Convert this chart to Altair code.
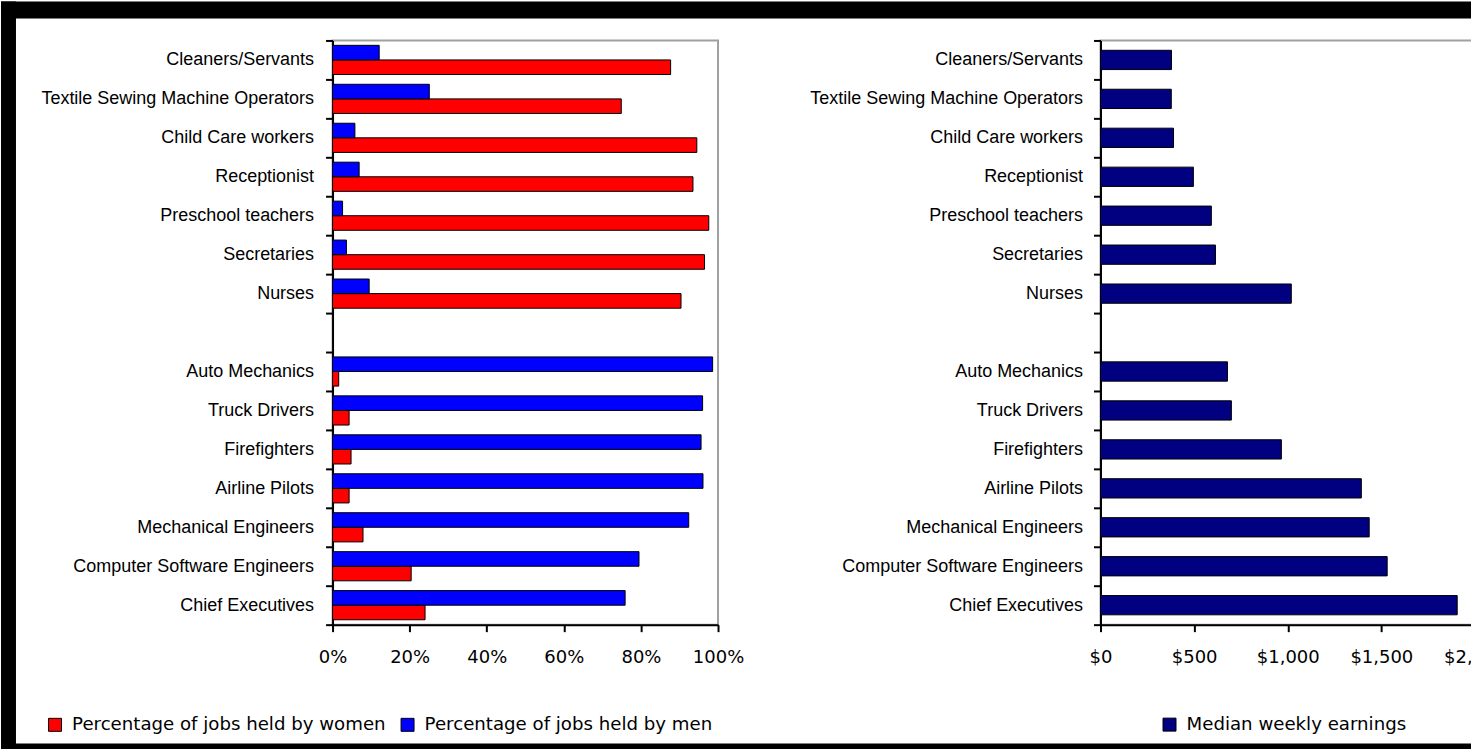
import altair as alt
import pandas as pd

# ---------------- data ----------------
categories = ["Cleaners/Servants", "Textile Sewing Machine Operators", "Child Care workers",
              "Receptionist", "Preschool teachers", "Secretaries", "Nurses", " ",
              "Auto Mechanics", "Truck Drivers", "Firefighters", "Airline Pilots",
              "Mechanical Engineers", "Computer Software Engineers", "Chief Executives"]
occupations = [c for c in categories if c.strip()]
women_pct = [87.7, 74.9, 94.5, 93.5, 97.6, 96.5, 90.4,
             1.6, 4.3, 4.8, 4.3, 7.9, 20.4, 24.0]
men_pct = [12.1, 25.1, 5.8, 6.9, 2.6, 3.6, 9.5,
           98.6, 96.0, 95.6, 96.1, 92.4, 79.5, 75.9]
weekly_earnings = [379, 378, 390, 496, 592, 614, 1019,
                   678, 699, 966, 1393, 1435, 1531, 1905]
series_names = ["Percentage of jobs held by women", "Percentage of jobs held by men"]
earn_name = "Median weekly earnings"
pct_ticks = [0, 20, 40, 60, 80, 100]
usd_ticks = [0, 500, 1000, 1500, 2000]

rows = []
for occ, w, m in zip(occupations, women_pct, men_pct):
    rows.append({"occupation": occ, "series": series_names[0], "value": w})
    rows.append({"occupation": occ, "series": series_names[1], "value": m})
df_pct = pd.DataFrame(rows)
df_earn = pd.DataFrame({"job": occupations, "earnings": weekly_earnings,
                        "measure": [earn_name] * len(occupations)})

# ---------------- layout constants ----------------
W1, W2, H = 386, 375, 585
LEFT_X, TOP_Y = 332, 39          # page position of left plot origin
PAGE_W, PAGE_H = 1471, 749

def y_axis(pad):
    return alt.Axis(title=None, tickBand="extent", labelFont="Liberation Sans",
                    labelFontSize=18, labelPadding=pad, labelColor="black",
                    labelLimit=400)

def legend(lx):
    return alt.Legend(title=None, orient="none", legendX=lx, legendY=676,
                      direction="horizontal", symbolType="square",
                      symbolSize=169, symbolStrokeColor="black",
                      symbolStrokeWidth=1, labelFont="DejaVu Sans",
                      labelFontSize=18.2, labelColor="black", labelOffset=8,
                      columnPadding=12, padding=0, labelLimit=500)

bars_left = alt.Chart(df_pct).mark_bar(stroke="black", strokeWidth=1).encode(
    x=alt.X("value:Q", scale=alt.Scale(domain=[0, 100]),
            axis=alt.Axis(title=None, values=pct_ticks, labelExpr="datum.value + '%'",
                          labelFlush=False, labelOverlap=False)),
    y=alt.Y("occupation:N", scale=alt.Scale(domain=categories, paddingInner=0, paddingOuter=0),
            axis=y_axis(12)),
    yOffset=alt.YOffset("series:N",
                        scale=alt.Scale(domain=[series_names[1], series_names[0]],
                                        paddingInner=0, paddingOuter=0.335)),
    color=alt.Color("series:N",
                    scale=alt.Scale(domain=series_names, range=["#ff0000", "#0000ff"]),
                    legend=legend(-287)),
)

frame_data = alt.Data(values=[{"k": 0}])

def frame_rect(x, x2, y, y2):
    return alt.Chart(frame_data).mark_rect(color="black", strokeWidth=0).encode(
        x=alt.value(x), x2=alt.value(x2), y=alt.value(y), y2=alt.value(y2))

right_extent = PAGE_W - LEFT_X + 100
frame = alt.layer(
    frame_rect(-LEFT_X, 15 - LEFT_X, -TOP_Y, PAGE_H - TOP_Y),
    frame_rect(-LEFT_X, right_extent, -TOP_Y, 17 - TOP_Y),
    frame_rect(-LEFT_X, right_extent, 743 - TOP_Y, PAGE_H - TOP_Y),
)

left = alt.layer(bars_left, frame).properties(width=W1, height=H)

right = alt.Chart(df_earn).mark_bar(stroke="black", strokeWidth=1).encode(
    x=alt.X("earnings:Q", scale=alt.Scale(domain=[0, 2000]),
            axis=alt.Axis(title=None, values=usd_ticks, format="$,.0f",
                          labelFlush=False, labelOverlap=False)),
    y=alt.Y("job:N", scale=alt.Scale(domain=categories, paddingInner=0, paddingOuter=0),
            axis=y_axis(11)),
    yOffset=alt.YOffset("measure:N", scale=alt.Scale(domain=[earn_name],
                                                      paddingInner=0, paddingOuter=0.51)),
    color=alt.Color("measure:N",
                    scale=alt.Scale(domain=[earn_name], range=["#000080"]),
                    legend=legend(60)),
).properties(width=W2, height=H)

chart = alt.hconcat(left, right, spacing=1101 - LEFT_X - W1, bounds="flush").resolve_scale(
    color="independent", y="independent", x="independent", yOffset="independent"
).properties(
    padding={"left": 0, "top": 0, "right": -100, "bottom": 0},
    background="white",
).configure_view(
    stroke="#a0a0a0", strokeWidth=2
).configure_axis(
    domainColor="black", domainWidth=2, tickColor="black", tickWidth=2, tickSize=7,
    grid=False, labelColor="black"
).configure_axisX(
    labelFont="DejaVu Sans", labelFontSize=18, labelPadding=17
)

chart.save("out.html", embed_options={"renderer": "svg", "actions": False})
